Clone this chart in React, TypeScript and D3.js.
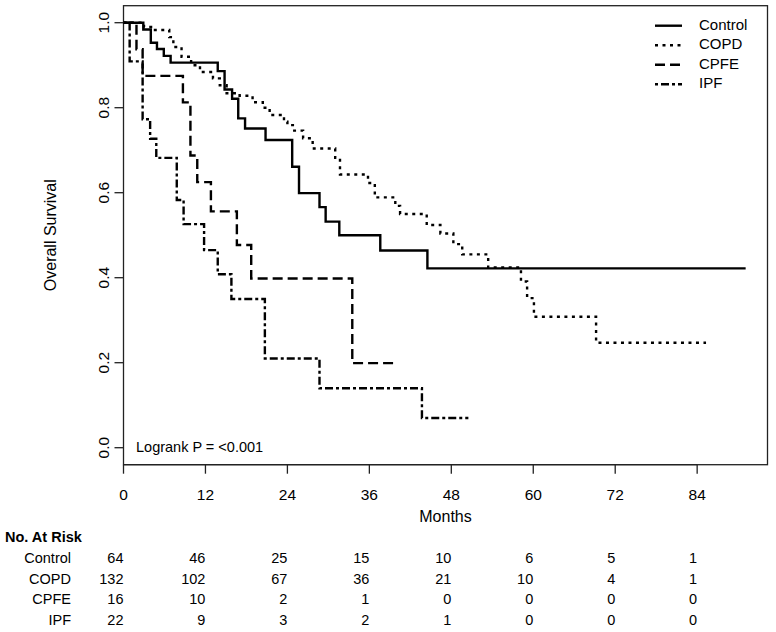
import React from 'react';
import * as d3 from 'd3';

// survival curves (months, survival)
const controlT = [0, 2.9, 4.0, 4.9, 5.9, 6.9, 13.8, 14.8, 15.9, 16.8, 17.8, 20.8, 24.7, 25.7, 28.7, 29.6, 31.6, 37.6, 44.5, 91.1];
const controlS = [1, 0.984, 0.953, 0.938, 0.922, 0.906, 0.886, 0.843, 0.821, 0.775, 0.751, 0.724, 0.661, 0.599, 0.566, 0.532, 0.5, 0.464, 0.422, 0.422];

const copdT = [0, 3.0, 4.3, 6.7, 7.3, 8.5, 9.9, 11.2, 13.1, 14.1, 15.1, 17.0, 18.9, 20.4, 21.4, 23.5, 24.0, 24.8, 26.3, 27.7, 31.0, 31.7, 35.8, 36.8, 39.8, 40.5, 44.4, 46.4, 48.3, 49.6, 53.4, 58.2, 59.1, 60.1, 69.2, 85.3];
const copdS = [1, 0.99, 0.983, 0.966, 0.943, 0.92, 0.9, 0.884, 0.869, 0.853, 0.834, 0.828, 0.813, 0.8, 0.783, 0.767, 0.759, 0.746, 0.728, 0.704, 0.682, 0.643, 0.623, 0.589, 0.569, 0.55, 0.524, 0.504, 0.479, 0.455, 0.424, 0.391, 0.352, 0.308, 0.247, 0.247];

const cpfeT = [0, 1.9, 2.8, 8.7, 9.8, 10.8, 12.8, 16.6, 18.7, 33.5, 40.0];
const cpfeS = [1, 0.9375, 0.875, 0.8125, 0.6875, 0.625, 0.556, 0.477, 0.398, 0.199, 0.199];

const ipfT = [0, 0.9, 2.8, 3.9, 4.8, 7.8, 8.8, 11.8, 13.8, 15.8, 20.7, 28.7, 43.7, 50.5];
const ipfS = [1, 0.909, 0.773, 0.727, 0.682, 0.583, 0.526, 0.465, 0.408, 0.35, 0.21, 0.14, 0.07, 0.07];

const groups = ['Control', 'COPD', 'CPFE', 'IPF'];
const dashes = ['none', '3 4.5', '10 5', '3 3 8 3'];

const xTicks = [0, 12, 24, 36, 48, 60, 72, 84];
const yTicks = [0, 0.2, 0.4, 0.6, 0.8, 1.0];

const riskControl = [64, 46, 25, 15, 10, 6, 5, 1];
const riskCopd = [132, 102, 67, 36, 21, 10, 4, 1];
const riskCpfe = [16, 10, 2, 1, 0, 0, 0, 0];
const riskIpf = [22, 9, 3, 2, 1, 0, 0, 0];

const font = '"Liberation Sans", Arial, sans-serif';

const App = () => {
    const width = 776;
    const height = 632;
    const left = 123.5;
    const right = 767.5;
    const top = 5.7;
    const bottom = 464.7;

    const x = d3.scaleLinear().domain([0, 94.3]).range([left, right]);
    const y = d3.scaleLinear().domain([-0.04, 1.04]).range([bottom, top]);

    const line = d3.line<[number, number]>()
        .x(d => x(d[0]))
        .y(d => y(d[1]))
        .curve(d3.curveStepAfter);

    const series = [
        d3.zip(controlT, controlS),
        d3.zip(copdT, copdS),
        d3.zip(cpfeT, cpfeS),
        d3.zip(ipfT, ipfS)
    ] as [number, number][][];

    const risk = [riskControl, riskCopd, riskCpfe, riskIpf];
    const midY = (top + bottom) / 2;

    return (
        <div style={{ position: 'absolute', left: 0, top: 0 }}>
            <svg width={width} height={height} style={{ display: 'block', background: '#fff' }} fontFamily={font}>
                <rect x={left} y={top} width={right - left} height={bottom - top} fill="none" stroke="#222" strokeWidth="1.3" />

                {series.map((s, i) => (
                    <path key={groups[i]} d={line(s) || ''} fill="none" stroke="#000"
                        strokeWidth="2.4" strokeDasharray={dashes[i]} />
                ))}

                {/* x axis */}
                <line x1={x(0)} x2={x(84)} y1={bottom} y2={bottom} stroke="#222" strokeWidth="1.3" />
                {xTicks.map(t => (
                    <g key={t}>
                        <line x1={x(t)} x2={x(t)} y1={bottom} y2={bottom + 9} stroke="#222" strokeWidth="1.3" />
                        <text x={x(t)} y={bottom + 31} fontSize="15.5" textAnchor="middle" dominantBaseline="middle">{t}</text>
                    </g>
                ))}
                <text x={(left + right) / 2} y={518} fontSize="16" textAnchor="middle" dominantBaseline="middle">Months</text>

                {/* y axis */}
                {yTicks.map(t => (
                    <g key={t}>
                        <line x1={left - 9} x2={left} y1={y(t)} y2={y(t)} stroke="#222" strokeWidth="1.3" />
                        <text transform={`translate(${left - 19},${y(t)}) rotate(-90)`} fontSize="15.5"
                            textAnchor="middle" dominantBaseline="middle">{t.toFixed(1)}</text>
                    </g>
                ))}
                <text transform={`translate(52,${midY}) rotate(-90)`} fontSize="16"
                    textAnchor="middle" dominantBaseline="middle">Overall Survival</text>

                <text x={136} y={y(0)} fontSize="14.5" dominantBaseline="middle">Logrank P = &lt;0.001</text>

                {/* legend */}
                {groups.map((g, i) => (
                    <g key={g} transform={`translate(0,${25.7 + i * 19.5})`}>
                        <line x1={655} x2={682} y1={0} y2={0} stroke="#000" strokeWidth="2.4" strokeDasharray={dashes[i]} />
                        <text x={699} y={0} fontSize="15" dominantBaseline="middle">{g}</text>
                    </g>
                ))}

                {/* number at risk */}
                <text x={5} y={538.5} fontSize="14.5" fontWeight="bold" dominantBaseline="middle">No. At Risk</text>
                {groups.map((g, i) => (
                    <g key={g} transform={`translate(0,${559.5 + i * 20.4})`}>
                        <text x={71} y={0} fontSize="14.5" textAnchor="end" dominantBaseline="middle">{g}</text>
                        {risk[i].map((v, j) => (
                            <text key={j} x={x(xTicks[j])} y={0} fontSize="14.5" textAnchor="end" dominantBaseline="middle">{v}</text>
                        ))}
                    </g>
                ))}
            </svg>
        </div>
    );
};

export default App;
